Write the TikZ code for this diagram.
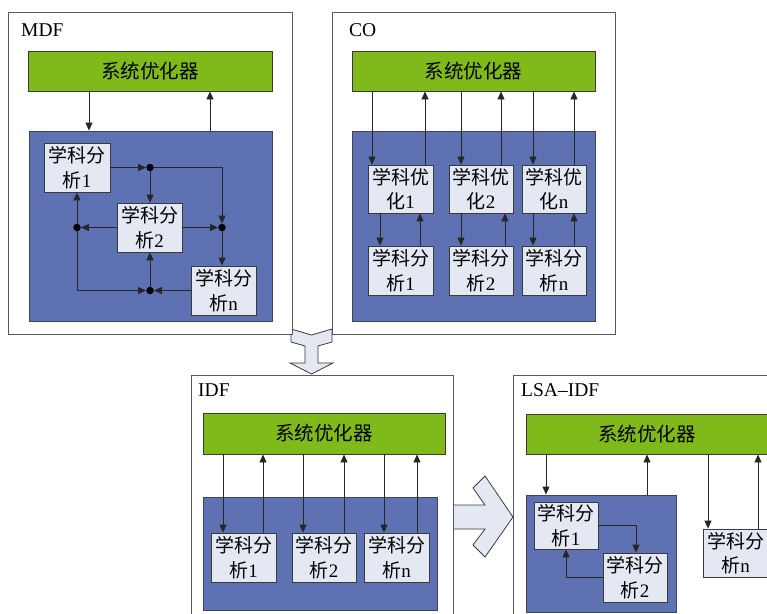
\documentclass[tikz,border=0pt]{standalone}
\usepackage{fontspec}
\setmainfont{Liberation Serif}
\newfontfamily\cjk{Noto Sans CJK SC}
\usetikzlibrary{arrows.meta}
\definecolor{sysgreen}{HTML}{80BA1A}
\definecolor{grpblue}{HTML}{5D71B3}
\definecolor{cellfill}{HTML}{E4E8F3}
\definecolor{edge}{HTML}{3A3A3A}
\definecolor{panelline}{HTML}{5A5A5A}
% node placed by its corners: style, name, x1, y1, x2, y2, text
\newcommand\placebox[7]{\node[#1, minimum width={(#5)-(#3)}, minimum height={(#6)-(#4)}] (#2) at ({((#3)+(#5))/2},{((#4)+(#6))/2}) {#7};}
\newcommand\cellA[1]{{\cjk 学科分}\\{\cjk 析}#1}
\newcommand\cellO[1]{{\cjk 学科优}\\{\cjk 化}#1}
\newcommand\sysname{\cjk 系统优化器}
\begin{document}
\begin{tikzpicture}[x=1pt,y=-1pt,
  panel/.style={draw=panelline, fill=white, line width=0.9pt, inner sep=0pt},
  sysbox/.style={draw=edge, fill=sysgreen, line width=0.9pt, inner sep=0pt,
    font=\fontsize{19.5}{24}\selectfont},
  groupbox/.style={draw=edge!80!grpblue, fill=grpblue, line width=0.9pt, inner sep=0pt},
  cellbox/.style={draw=edge, fill=cellfill, line width=0.8pt, inner sep=0pt,
    align=center, font=\fontsize{19}{24.5}\selectfont},
  tag/.style={anchor=base west, inner sep=0pt, font=\fontsize{19.5}{24}\selectfont},
  flow/.style={draw=black!85, line width=0.9pt, -{Triangle[length=8pt,width=7pt]}},
  junction/.style={circle, fill=black, inner sep=0pt, minimum size=7.5pt},
  blockarrow/.style={draw=edge, fill=cellfill, line width=0.8pt, line join=miter}]
\useasboundingbox (0,0) rectangle (767,613);
\fill[white] (0,0) rectangle (767,613);
\clip (0,0) rectangle (767,613);

% block arrows between the four schemes
\draw[blockarrow] (291,329) -- (311.5,335) -- (332,329) -- (332,342) -- (318,346)
  -- (318,363) -- (333,363) -- (311.5,374) -- (290,363) -- (305,363) -- (305,346)
  -- (291,342) -- cycle;
\draw[blockarrow] (448,505) -- (485,505) -- (473,488) -- (485,476) -- (513,517)
  -- (485,557) -- (473,545) -- (485,529) -- (448,529) -- cycle;

% panels
\placebox{panel}{fMDF}{8}{12}{292}{334}{}
\placebox{panel}{fCO}{332}{12}{615}{334}{}
\placebox{panel}{fIDF}{191}{375}{453}{650}{}
\placebox{panel}{fLSA}{513}{375}{800}{650}{}
\node[tag] (tMDF) at (21,36.5) {MDF};
\node[tag] (tCO) at (349,36.5) {CO};
\node[tag] (tIDF) at (198,396.5) {IDF};
\node[tag] (tLSA) at (521,396.5) {LSA--IDF};

% ---------------- MDF ----------------
\placebox{sysbox}{gMDF}{28}{51}{272}{91}{\sysname}
\placebox{groupbox}{bMDF}{29}{131}{272}{321}{}
\placebox{cellbox}{m1}{44}{143}{110}{192}{\cellA{1}}
\placebox{cellbox}{m2}{117}{203}{182}{252}{\cellA{2}}
\placebox{cellbox}{mn}{191}{266}{256}{315}{\cellA{n}}
\draw[flow] (89,0 |- gMDF.south) -- (89,0 |- bMDF.north);
\draw[flow] (210,0 |- bMDF.north) -- (210,0 |- gMDF.south);
\node[junction] (d1) at (150,167.5) {};
\node[junction] (d2) at (222,227.5) {};
\node[junction] (d3) at (77,227.5) {};
\node[junction] (d4) at (150,290.5) {};
\draw[flow] (m1.east |- d1) -- (d1);
\draw[flow] (d1) -- (d2 |- d1) -- (d2);
\draw[flow] (d1) -- (d1 |- m2.north);
\draw[flow] (m2.east) -- (d2);
\draw[flow] (m2.west) -- (d3);
\draw[flow] (d2) -- (d2 |- mn.north);
\draw[flow] (mn.west |- d4) -- (d4);
\draw[flow] (d3) -- (d3 |- m1.south);
\draw[flow] (d3) -- (d3 |- d4) -- (d4);
\draw[flow] (d4) -- (d4 |- m2.south);

% ---------------- CO ----------------
\placebox{sysbox}{gCO}{352}{51}{595}{91}{\sysname}
\placebox{groupbox}{bCO}{352}{131}{595}{321}{}
\placebox{cellbox}{o1}{368}{165}{433}{213}{\cellO{1}}
\placebox{cellbox}{o2}{449}{165}{513}{213}{\cellO{2}}
\placebox{cellbox}{on}{522}{165}{586}{213}{\cellO{n}}
\placebox{cellbox}{a1}{368}{246}{433}{295}{\cellA{1}}
\placebox{cellbox}{a2}{449}{246}{513}{295}{\cellA{2}}
\placebox{cellbox}{an}{522}{246}{586}{295}{\cellA{n}}
\draw[flow] (372,0 |- gCO.south) -- (372,0 |- o1.north);
\draw[flow] (425,0 |- o1.north) -- (425,0 |- gCO.south);
\draw[flow] (461,0 |- gCO.south) -- (461,0 |- o2.north);
\draw[flow] (501,0 |- o2.north) -- (501,0 |- gCO.south);
\draw[flow] (533,0 |- gCO.south) -- (533,0 |- on.north);
\draw[flow] (574,0 |- on.north) -- (574,0 |- gCO.south);
\draw[flow] (380,0 |- o1.south) -- (380,0 |- a1.north);
\draw[flow] (420,0 |- a1.north) -- (420,0 |- o1.south);
\draw[flow] (461,0 |- o2.south) -- (461,0 |- a2.north);
\draw[flow] (505,0 |- a2.north) -- (505,0 |- o2.south);
\draw[flow] (533,0 |- on.south) -- (533,0 |- an.north);
\draw[flow] (574,0 |- an.north) -- (574,0 |- on.south);

% ---------------- IDF ----------------
\placebox{sysbox}{gIDF}{203}{413}{445}{454}{\sysname}
\placebox{groupbox}{bIDF}{203}{497}{437}{610}{}
\placebox{cellbox}{c1}{211}{533}{276}{582}{\cellA{1}}
\placebox{cellbox}{c2}{292}{533}{356}{582}{\cellA{2}}
\placebox{cellbox}{cn}{364}{533}{429}{582}{\cellA{n}}
\draw[flow] (223,0 |- gIDF.south) -- (223,0 |- c1.north);
\draw[flow] (263,0 |- c1.north) -- (263,0 |- gIDF.south);
\draw[flow] (303,0 |- gIDF.south) -- (303,0 |- c2.north);
\draw[flow] (344,0 |- c2.north) -- (344,0 |- gIDF.south);
\draw[flow] (384,0 |- gIDF.south) -- (384,0 |- cn.north);
\draw[flow] (417,0 |- cn.north) -- (417,0 |- gIDF.south);

% ---------------- LSA-IDF ----------------
\placebox{sysbox}{gLSA}{526}{414}{768}{454}{\sysname}
\placebox{groupbox}{bLSA}{526}{495}{676}{612}{}
\placebox{cellbox}{l1}{534}{502}{598}{549}{\cellA{1}}
\placebox{cellbox}{l2}{603}{553}{667}{602}{\cellA{2}}
\placebox{cellbox}{ln}{703}{529}{768}{577}{\cellA{n}}
\draw[flow] (546,0 |- gLSA.south) -- (546,0 |- bLSA.north);
\draw[flow] (647,0 |- bLSA.north) -- (647,0 |- gLSA.south);
\draw[flow] (708,0 |- gLSA.south) -- (708,0 |- ln.north);
\draw[flow] (758,0 |- ln.north) -- (758,0 |- gLSA.south);
\draw[flow] (l1.east) -- (636,0 |- l1.east) -- (636,0 |- l2.north);
\draw[flow] (l2.west) -- (566,0 |- l2.west) -- (566,0 |- l1.south);
\end{tikzpicture}
\end{document}
